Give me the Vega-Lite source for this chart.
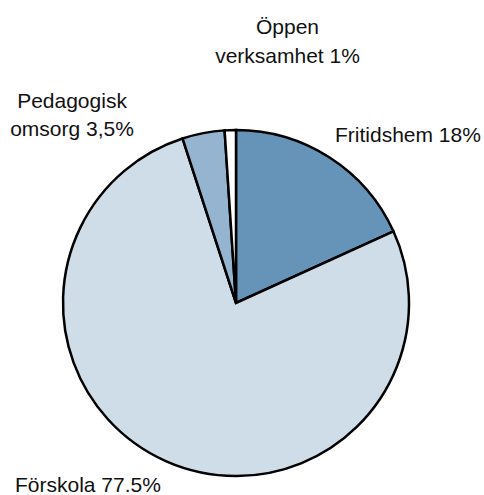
{
  "$schema": "https://vega.github.io/schema/vega-lite/v6.json",
  "width": 472,
  "height": 384,
  "autosize": {"type": "none"},
  "padding": {"top": 111, "left": 0, "right": 12, "bottom": 0},
  "background": "white",
  "config": {"view": {"stroke": null}},
  "data": {"values": [
    {"cat": "Fritidshem", "label": "Fritidshem 18%", "value": 18.2, "ord": 1},
    {"cat": "Förskola", "label": "Förskola 77.5%", "value": 76.8, "ord": 2},
    {"cat": "Pedagogisk omsorg", "label": "Pedagogisk\nomsorg 3,5%", "value": 3.95, "ord": 3},
    {"cat": "Öppen verksamhet", "label": "Öppen\nverksamhet 1%", "value": 1.05, "ord": 4}
  ]},
  "encoding": {
    "theta": {"field": "value", "type": "quantitative", "stack": true},
    "order": {"field": "ord", "type": "quantitative"}
  },
  "layer": [
    {
      "mark": {"type": "arc", "outerRadius": 173, "stroke": "black", "strokeWidth": 2.5},
      "encoding": {
        "color": {"field": "cat", "type": "nominal",
          "scale": {"domain": ["Fritidshem", "Förskola", "Pedagogisk omsorg", "Öppen verksamhet"],
                    "range": ["#6594b8", "#cfdde9", "#95b4cf", "#ffffff"]},
          "legend": null}
      }
    },
    {
      "mark": {"type": "text", "radius": 173, "align": "left", "baseline": "alphabetic", "dx": 5.4, "dy": -15.5, "font": "Liberation Sans", "fontSize": 21, "color": "#111111", "lineBreak": "\n", "lineHeight": 27.7},
      "encoding": {"text": {"condition": {"test": "datum.cat === 'Fritidshem'", "field": "label"}, "value": ""}}
    },
    {
      "mark": {"type": "text", "radius": 173, "align": "left", "baseline": "alphabetic", "dx": -151.3, "dy": 30.5, "font": "Liberation Sans", "fontSize": 21, "color": "#111111", "lineBreak": "\n", "lineHeight": 27.7},
      "encoding": {"text": {"condition": {"test": "datum.cat === 'Förskola'", "field": "label"}, "value": ""}}
    },
    {
      "mark": {"type": "text", "radius": 173, "align": "center", "baseline": "alphabetic", "dx": -131.3, "dy": -24.8, "font": "Liberation Sans", "fontSize": 21, "color": "#111111", "lineBreak": "\n", "lineHeight": 27.7},
      "encoding": {"text": {"condition": {"test": "datum.cat === 'Pedagogisk omsorg'", "field": "label"}, "value": ""}}
    },
    {
      "mark": {"type": "text", "radius": 173, "align": "center", "baseline": "alphabetic", "dx": 57.2, "dy": -96, "font": "Liberation Sans", "fontSize": 21, "color": "#111111", "lineBreak": "\n", "lineHeight": 28.5},
      "encoding": {"text": {"condition": {"test": "datum.cat === 'Öppen verksamhet'", "field": "label"}, "value": ""}}
    }
  ]
}
